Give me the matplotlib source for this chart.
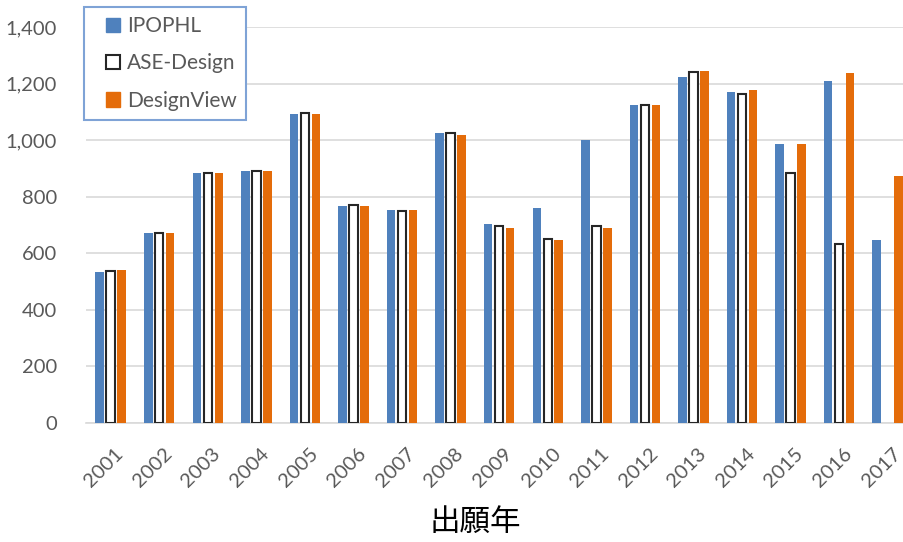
import matplotlib
matplotlib.use("Agg")
import matplotlib.pyplot as plt
import matplotlib.transforms as mtransforms
import numpy as np
from matplotlib.patches import Patch, Rectangle
from matplotlib.legend_handler import HandlerPatch
from matplotlib.ticker import FuncFormatter

years = [str(y) for y in range(2001, 2018)]
ipophl = [532, 672, 885, 892, 1093, 767, 753, 1027, 702, 759, 1000, 1125, 1225, 1170, 986, 1211, 647]
ase_design = [538, 670, 885, 892, 1097, 771, 750, 1025, 695, 651, 695, 1125, 1243, 1162, 885, 631, None]
design_view = [540, 672, 885, 892, 1093, 767, 753, 1020, 689, 647, 689, 1126, 1245, 1176, 986, 1239, 874]

blue = "#4F81BD"
orange = "#E46C0A"
grid_gray = "#D9D9D9"
text_gray = "#595959"

plt.rcParams["font.family"] = ["Lato", "DejaVu Sans"]

fig = plt.figure(figsize=(9.04, 5.42), dpi=100)
# axes runs a little past the right edge, like the cropped original
ax = fig.add_axes([86.4 / 904, 119.3 / 542, 825.6 / 904, 395.5 / 542])

x = np.arange(len(years))
w = 0.175
step = 0.226

ase_vals = np.array([np.nan if v is None else v for v in ase_design], dtype=float)

ax.bar(x - step, ipophl, w, color=blue, zorder=3)
ax.bar(x, ase_vals, w, color="white", edgecolor="#262626", linewidth=1.5, zorder=3)
ax.bar(x + step, design_view, w, color=orange, zorder=3)

ax.set_xlim(-0.5, len(years) - 0.5)
ax.set_ylim(0, 1400)
ax.set_yticks(np.arange(0, 1401, 200))
ax.yaxis.set_major_formatter(FuncFormatter(lambda v, p: f"{int(v):,}"))
ax.grid(axis="y", color=grid_gray, linewidth=1.2, zorder=0)

for s in ["top", "right", "left"]:
    ax.spines[s].set_visible(False)
ax.spines["bottom"].set_color(grid_gray)
ax.spines["bottom"].set_linewidth(1.2)

ax.set_xticks(x)
ax.set_xticklabels(years, rotation=45, ha="right", rotation_mode="anchor")
ax.tick_params(axis="both", length=0, labelsize=14.5, colors=text_gray)
ax.tick_params(axis="y", pad=21)
ax.tick_params(axis="x", pad=16)
shift = mtransforms.ScaledTranslation(4 / 100, 0, fig.dpi_scale_trans)
for lbl in ax.get_xticklabels():
    lbl.set_transform(lbl.get_transform() + shift)

fig.text(475 / 904, 1 - 522 / 542, "出願年", family=["Noto Sans CJK JP", "DejaVu Sans"],
         fontsize=22, color="black", ha="center", va="center")


# small square drawn at the right end of a wider handle box (Excel-like padding)
def square_patch(legend, orig_handle, xdescent, ydescent, width, height, fontsize):
    s = 0.7 * fontsize
    return Rectangle((width - s - xdescent, (height - s) / 2 - ydescent), s, s)


handles = [
    Patch(facecolor=blue, edgecolor=blue),
    Patch(facecolor="white", edgecolor="#262626", linewidth=1.5),
    Patch(facecolor=orange, edgecolor=orange),
]
leg = fig.legend(handles, ["IPOPHL", "ASE-Design", "DesignView"],
                 loc="upper left", bbox_to_anchor=(84 / 904, 1 - 7 / 542),
                 borderaxespad=0, fontsize=15, handlelength=1.3, handleheight=0.7,
                 handletextpad=0.3, labelspacing=0.82, borderpad=0.45,
                 fancybox=False, framealpha=1,
                 handler_map={Patch: HandlerPatch(patch_func=square_patch)})
leg.get_frame().set_edgecolor("#7FA3D6")
leg.get_frame().set_linewidth(1.5)
for t in leg.get_texts():
    t.set_color(text_gray)

fig.savefig("out.png", dpi=100)
